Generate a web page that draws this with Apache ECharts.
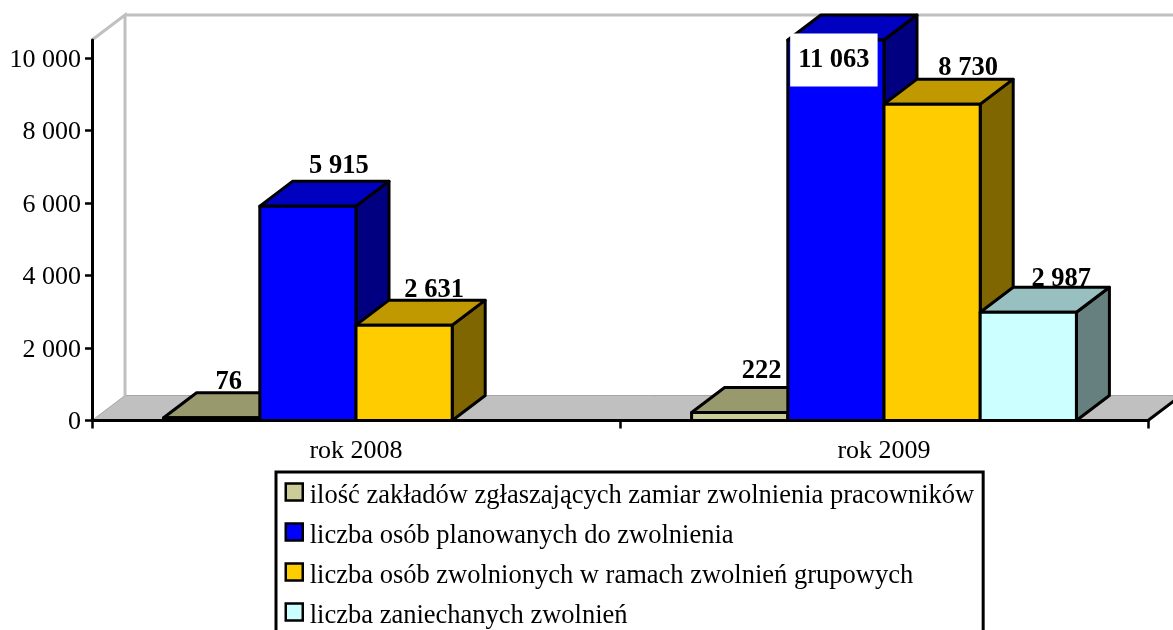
<!DOCTYPE html>
<html>
<head>
<meta charset="utf-8">
<title>Zwolnienia grupowe</title>
<style>
  html, body { margin: 0; padding: 0; background: #fff; }
  #main { width: 1173px; height: 630px; }
</style>
<script src="https://cdn.jsdelivr.net/npm/echarts@6/dist/echarts.min.js"></script>
</head>
<body>
<div id="main"></div>
<script>
var categories = ['rok 2008', 'rok 2009']
var seriesNames = [
  'ilość zakładów zgłaszających zamiar zwolnienia pracowników',
  'liczba osób planowanych do zwolnienia',
  'liczba osób zwolnionych w ramach zwolnień grupowych',
  'liczba zaniechanych zwolnień'
]
var zaklady = [76, 222]
var planowane = [5915, 11063]
var zwolnione = [2631, 8730]
var zaniechane = [null, 2987]
var yTicks = [0, 2000, 4000, 6000, 8000, 10000]
var axisMax = 10500

var FONT = '"Liberation Serif", "Times New Roman", serif'
var DX = 33    // glebokosc slupka
var DY = 25
var BAR_RATIO = 0.1822

// kolory: front, gora, bok
var faces = [
  ['#cccc99', '#99996e', '#666648'],
  ['#0000ff', '#0000c0', '#000080'],
  ['#ffcc00', '#c09900', '#806600'],
  ['#ccffff', '#99c0c0', '#668080']
]

// reczne przesuniecia etykiet [x, y] wzgledem srodka tylnej krawedzi
var labelShift = [
  [[-16, -11], [-11, -16]],
  [[-2, -15], [-8, 0]],
  [[-3, -10], [3, -11]],
  [[1, 0], [0, -8]]
]

function fmt(v) {
  return String(v).replace(/\B(?=(\d{3})+$)/g, ' ')
}

function poly(points, fill) {
  return {
    type: 'polygon',
    shape: { points: points },
    style: { fill: fill, stroke: '#000', lineWidth: 3, lineJoin: 'round' }
  }
}

function renderBar(params, api) {
  var value = api.value(1)
  if (value == null || isNaN(value)) return
  var idx = params.seriesIndex - 1
  var cat = api.value(0)
  var band = api.size([1, 0])[0]
  var w = band * BAR_RATIO
  var base = api.coord([cat, 0])
  var top = api.coord([cat, Math.min(value, axisMax)])
  var x0 = base[0] - 2 * w + idx * w
  var x1 = x0 + w
  var y0 = base[1]
  var y1 = top[1]
  var c = faces[idx]
  var shift = labelShift[idx][cat]
  var overflow = value > axisMax
  var textStyle = {
    text: fmt(value),
    x: (x0 + x1) / 2 + DX + shift[0],
    y: y1 - DY + shift[1],
    align: 'center',
    verticalAlign: 'middle',
    fill: '#000',
    font: 'bold 26.5px ' + FONT
  }
  if (overflow) {
    // etykieta na bialym tle, na slupku
    textStyle.x = (x0 + x1) / 2 - 2
    textStyle.y = y1 + 20
    textStyle.backgroundColor = '#fff'
    textStyle.padding = [15, 8, 11, 8]
  }
  return {
    type: 'group',
    children: [
      poly([[x1, y0], [x1 + DX, y0 - DY], [x1 + DX, y1 - DY], [x1, y1]], c[2]),
      poly([[x0, y1], [x0 + DX, y1 - DY], [x1 + DX, y1 - DY], [x1, y1]], c[1]),
      poly([[x0, y0], [x1, y0], [x1, y1], [x0, y1]], c[0]),
      { type: 'text', z2: 10, style: textStyle }
    ]
  }
}

function renderWalls(params, api) {
  var rect = params.coordSys
  var left = rect.x
  var right = rect.x + rect.width
  var bottom = rect.y + rect.height
  var top = rect.y
  var wall = { stroke: '#c0c0c0', lineWidth: 3, fill: null }
  return {
    type: 'group',
    children: [
      {
        type: 'polygon',
        shape: { points: [[left, bottom], [left + DX, bottom - DY], [right + DX, bottom - DY], [right, bottom]] },
        style: { fill: '#c0c0c0', stroke: '#a6a6a6', lineWidth: 1 }
      },
      { type: 'polyline', shape: { points: [[left, top], [left + DX, top - DY], [left + DX, bottom - DY]] }, style: wall },
      { type: 'line', shape: { x1: left + DX, y1: top - DY, x2: right + DX, y2: top - DY }, style: wall },
      { type: 'line', shape: { x1: right, y1: bottom, x2: right + DX, y2: bottom - DY }, style: { stroke: '#000', lineWidth: 3 } }
    ]
  }
}

function toData(values) {
  return values.map(function (v, i) { return [i, v] })
}

var allValues = [zaklady, planowane, zwolnione, zaniechane]

var series = [{
  type: 'custom',
  name: 'tlo',
  z: 1,
  silent: true,
  clip: false,
  renderItem: renderWalls,
  data: [[0, 0]]
}]
allValues.forEach(function (values, i) {
  series.push({
    type: 'custom',
    name: seriesNames[i],
    z: 3,
    clip: false,
    renderItem: renderBar,
    itemStyle: { color: faces[i][0] },
    encode: { x: 0, y: 1 },
    data: toData(values)
  })
})

var myChart = echarts.init(document.getElementById('main'))
myChart.setOption({
  animation: false,
  backgroundColor: '#fff',
  grid: { left: 92, right: 25, top: 40, bottom: 209.5, containLabel: false },
  tooltip: { show: false },
  legend: {
    orient: 'vertical',
    left: 276,
    top: 472,
    height: 200,
    data: seriesNames,
    selectedMode: false,
    icon: 'rect',
    itemWidth: 17,
    itemHeight: 17,
    itemGap: 5,
    padding: [2.5, 9, 20, 8.5],
    borderColor: '#000',
    borderWidth: 3,
    itemStyle: { borderColor: '#000', borderWidth: 2.5 },
    formatter: '{t|{name}}',
    textStyle: {
      rich: { t: { fontFamily: FONT, fontSize: 26.5, color: '#000', lineHeight: 22, padding: [8, 0, 0, 2] } }
    }
  },
  xAxis: {
    type: 'category',
    data: categories,
    z: 5,
    axisLine: { lineStyle: { color: '#000', width: 3 } },
    axisTick: { show: true, length: 8, alignWithLabel: false, lineStyle: { color: '#000', width: 2.5 } },
    axisLabel: { color: '#000', fontFamily: FONT, fontSize: 26, margin: 18 }
  },
  yAxis: {
    type: 'value',
    min: 0,
    max: axisMax,
    interval: 2000,
    z: 5,
    splitLine: { show: false },
    axisLine: { show: true, lineStyle: { color: '#000', width: 3 } },
    axisTick: { show: true, length: 7, customValues: yTicks, lineStyle: { color: '#000', width: 2.5 } },
    axisLabel: {
      color: '#000',
      margin: 11,
      customValues: yTicks,
      formatter: function (v) { return '{t|' + fmt(v) + '}' },
      rich: { t: { fontFamily: FONT, fontSize: 26, color: '#000', padding: [4, 0, 0, 0] } }
    }
  },
  series: series
})
</script>
</body>
</html>
